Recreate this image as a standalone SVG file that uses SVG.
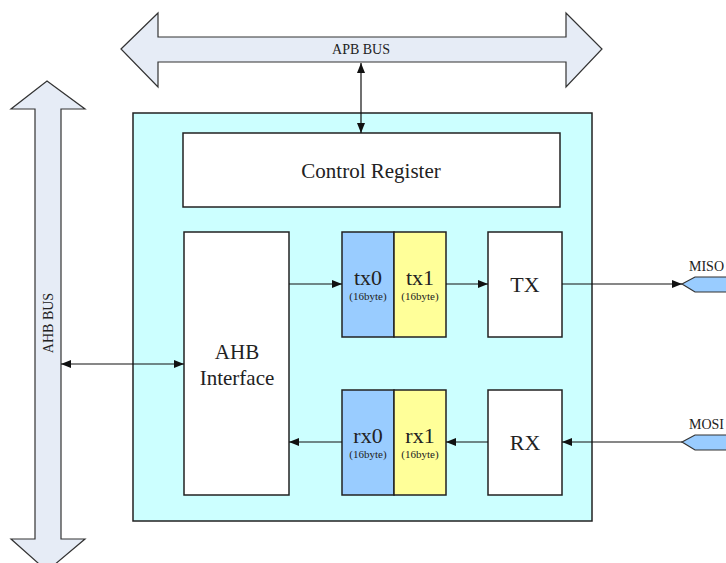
<svg xmlns="http://www.w3.org/2000/svg" width="726" height="563" viewBox="0 0 726 563" font-family="'Liberation Serif', 'Times New Roman', serif">
<style>
text{font-family:'Liberation Serif','Times New Roman',serif;fill:#222}
.bus{fill:#e6ecf6;stroke:#333;stroke-width:1.2}
.box{fill:#fff;stroke:#222;stroke-width:1.5}
.ln{stroke:#111;stroke-width:1.2;fill:none}
.pin{fill:#99ccff;stroke:#333;stroke-width:1.2}
.big{font-size:21px;text-anchor:middle}
.sm{font-size:11px;text-anchor:middle}
.lbl{font-size:14px}
</style>
<defs>
<marker id="ah" viewBox="0 0 10 10" refX="10" refY="5" markerWidth="10" markerHeight="10" markerUnits="userSpaceOnUse" orient="auto-start-reverse">
<path d="M0,1 L10,5 L0,9 Z" fill="#111"/>
</marker>
</defs>
<g id="apb-bus">
<polygon class="bus" points="121,49 158,13 158,37 566,37 566,13 602,49 566,87 566,62 158,62 158,87"/>
<text class="lbl" x="361" y="54" text-anchor="middle">APB BUS</text>
</g>
<g id="ahb-bus">
<polygon class="bus" points="47,81 85,109 61,109 61,539 85,539 47,571 11,539 35,539 35,109 11,109"/>
<text class="lbl" transform="translate(53,323) rotate(-90)" text-anchor="middle">AHB BUS</text>
</g>
<g id="spi-core">
<rect x="133" y="113" width="459" height="408" fill="#ccffff" stroke="#222" stroke-width="1.5"/>
</g>
<g id="control-register">
<rect class="box" x="183" y="133" width="377" height="74"/>
<text class="big" x="371" y="178" style="font-size:21px">Control Register</text>
</g>
<g id="ahb-interface">
<rect class="box" x="184" y="232" width="105" height="263"/>
<text class="big" x="237" y="359">AHB</text>
<text class="big" x="237" y="385">Interface</text>
</g>
<g id="tx0">
<rect x="342" y="232" width="52" height="105" fill="#99ccff" stroke="#222" stroke-width="1.5"/>
<text class="big" x="368" y="285" style="font-size:22px">tx0</text>
<text class="sm" x="368" y="300">(16byte)</text>
</g>
<g id="tx1">
<rect x="394" y="232" width="52" height="105" fill="#ffff99" stroke="#222" stroke-width="1.5"/>
<text class="big" x="420" y="285" style="font-size:22px">tx1</text>
<text class="sm" x="420" y="300">(16byte)</text>
</g>
<g id="tx">
<rect class="box" x="488" y="232" width="74" height="105"/>
<text class="big" x="525" y="292" style="font-size:22px">TX</text>
</g>
<g id="rx0">
<rect x="342" y="390" width="52" height="105" fill="#99ccff" stroke="#222" stroke-width="1.5"/>
<text class="big" x="368" y="443" style="font-size:22px">rx0</text>
<text class="sm" x="368" y="458">(16byte)</text>
</g>
<g id="rx1">
<rect x="394" y="390" width="52" height="105" fill="#ffff99" stroke="#222" stroke-width="1.5"/>
<text class="big" x="420" y="443" style="font-size:22px">rx1</text>
<text class="sm" x="420" y="458">(16byte)</text>
</g>
<g id="rx">
<rect class="box" x="488" y="390" width="74" height="105"/>
<text class="big" x="525" y="450" style="font-size:22px">RX</text>
</g>
<g id="miso">
<polygon class="pin" points="682,284 695,277 730,277 730,292 695,292"/>
<text class="lbl" x="689" y="271">MISO</text>
</g>
<g id="mosi">
<polygon class="pin" points="682,442 695,435 730,435 730,450 695,450"/>
<text class="lbl" x="689" y="429">MOSI</text>
</g>
<g id="connectors">
<line class="ln" x1="361" y1="63" x2="361" y2="133" marker-start="url(#ah)" marker-end="url(#ah)"/>
<line class="ln" x1="61" y1="364" x2="184" y2="364" marker-start="url(#ah)" marker-end="url(#ah)"/>
<line class="ln" x1="289" y1="284" x2="342" y2="284" marker-end="url(#ah)"/>
<line class="ln" x1="446" y1="284" x2="488" y2="284" marker-end="url(#ah)"/>
<line class="ln" x1="562" y1="284" x2="682" y2="284" marker-end="url(#ah)"/>
<line class="ln" x1="342" y1="442" x2="289" y2="442" marker-end="url(#ah)"/>
<line class="ln" x1="488" y1="442" x2="446" y2="442" marker-end="url(#ah)"/>
<line class="ln" x1="682" y1="442" x2="562" y2="442" marker-end="url(#ah)"/>
</g>
</svg>
